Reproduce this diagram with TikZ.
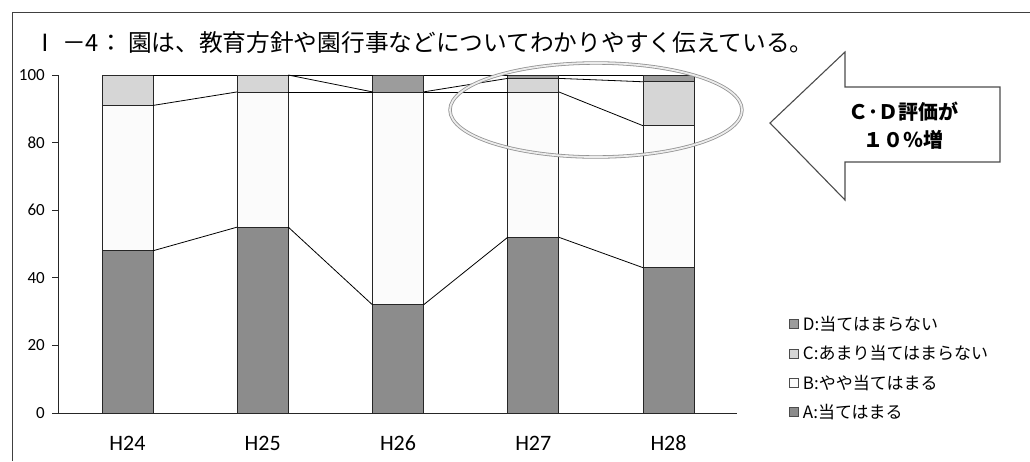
\documentclass[tikz,border=0pt]{standalone}
\usepackage{fontspec}
\setmainfont{Carlito}
\newfontfamily\jfont{Noto Sans CJK JP}
\usetikzlibrary{positioning}
\definecolor{colA}{HTML}{8C8C8C}
\definecolor{colB}{HTML}{FBFBFB}
\definecolor{colC}{HTML}{D6D6D6}
\definecolor{colD}{HTML}{9C9C9C}
\tikzset{
  barpart/.style={draw=black!85, line width=0.7pt},
  serieline/.style={black, line width=0.8pt},
  axisline/.style={black!85, line width=0.8pt},
  ticklabel/.style={anchor=east, inner sep=0pt, font=\fontsize{17}{17}\selectfont},
  catlabel/.style={inner sep=0pt, font=\fontsize{22}{22}\selectfont},
  legendbox/.style={draw=black!70, line width=0.5pt, minimum size=9pt, inner sep=0pt},
  legendtext/.style={anchor=west, inner sep=0pt, font=\jfont\fontsize{17}{17}\selectfont},
  ringmark/.style={draw=gray!85, double=gray!15, double distance=1.8pt, line width=0.8pt},
  bigarrow/.style={draw=black!70, line width=1.1pt, fill=white, line join=miter},
}
\begin{document}
\begin{tikzpicture}[x=1pt, y=-1pt]
  \useasboundingbox (0,0) rectangle (1030,461);
  \fill[white] (0,0) rectangle (1030,461);
  \draw[black!75, line width=0.9pt] (12,461) -- (12,12) -- (1030,12);
  \node[anchor=west, inner sep=0pt, font=\jfont\fontsize{23.7}{23.7}\selectfont] (title) at (33,43)
    {Ⅰ －4： 園は、教育方針や園行事などについてわかりやすく伝えている。};

  \begin{scope}[shift={(0,413)}, y=3.38pt]
    \draw[axisline] (53,0) -- (737,0);
    \draw[axisline] (58,0) -- (58,100);
    \foreach \v in {0,20,...,100} {
      \draw[axisline] (52,\v) -- (58,\v);
      \node[ticklabel] (tick\v) at (45,\v) {\v};
    }
    \foreach \i/\yr/\a/\b/\c/\d in {0/H24/48/43/9/0, 1/H25/55/40/5/0, 2/H26/32/63/0/5,
                                    3/H27/52/43/4/1, 4/H28/43/42/13/2} {
      \pgfmathsetmacro\xl{102+135.25*\i}
      \pgfmathsetmacro\xr{\xl+51}
      \pgfmathsetmacro\ab{\a+\b}
      \pgfmathsetmacro\abc{\a+\b+\c}
      \filldraw[barpart, fill=colA] (\xl,0) rectangle (\xr,\a);
      \filldraw[barpart, fill=colB] (\xl,\a) rectangle (\xr,\ab);
      \filldraw[barpart, fill=colC] (\xl,\ab) rectangle (\xr,\abc);
      \filldraw[barpart, fill=colD] (\xl,\abc) rectangle (\xr,100);
      \coordinate (s1-\i-l) at (\xl,\a);   \coordinate (s1-\i-r) at (\xr,\a);
      \coordinate (s2-\i-l) at (\xl,\ab);  \coordinate (s2-\i-r) at (\xr,\ab);
      \coordinate (s3-\i-l) at (\xl,\abc); \coordinate (s3-\i-r) at (\xr,\abc);
      \coordinate (s4-\i-l) at (\xl,100);  \coordinate (s4-\i-r) at (\xr,100);
      \node[catlabel] (cat\i) at (\xl+25.5,-8.9) {\yr};
    }
    \foreach \i/\j in {0/1,1/2,2/3,3/4}
      \foreach \s in {1,...,4}
        \draw[serieline] (s\s-\i-r) -- (s\s-\j-l);
  \end{scope}

  \foreach \k/\lab/\col [count=\n] in {D/当てはまらない/colD, C/あまり当てはまらない/colC,
                                       B/やや当てはまる/colB, A/当てはまる/colA} {
    \pgfmathsetmacro\ly{324+29.3*(\n-1)}
    \node[legendbox, fill=\col] (key\k) at (794,\ly) {};
    \node[legendtext, right=4pt of key\k] (lab\k) {\k:\lab};
  }

  \draw[ringmark] (596,110) ellipse [x radius=146, y radius=47];
  \draw[bigarrow] (770,123) -- (845,52) -- (845,87) -- (1000,87) -- (1000,162)
    -- (845,162) -- (845,200) -- cycle;
  \node[align=center, font=\jfont\bfseries\fontsize{20}{28}\selectfont] (note) at (903,126)
    {Ｃ･Ｄ評価が\\１０％増};
\end{tikzpicture}
\end{document}
